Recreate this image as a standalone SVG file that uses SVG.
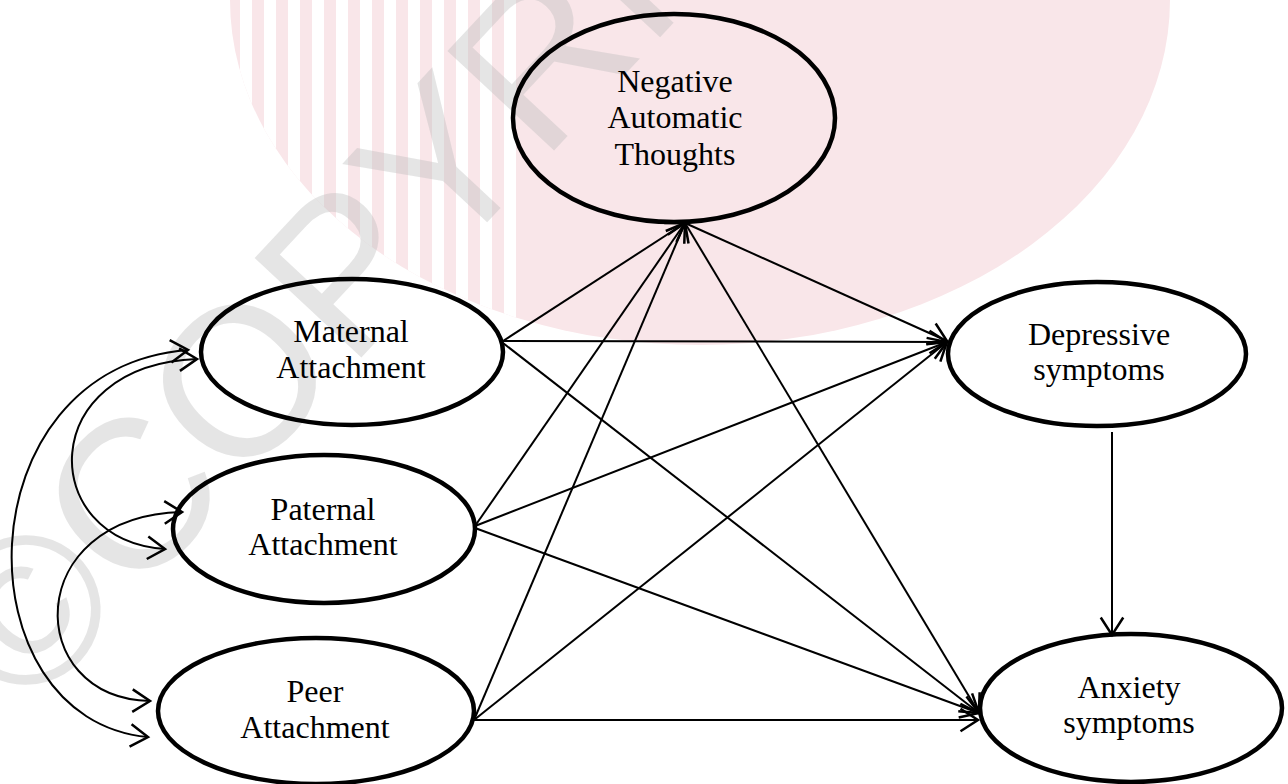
<svg xmlns="http://www.w3.org/2000/svg" width="1288" height="784" viewBox="0 0 1288 784">
  <defs>
    <marker id="ah" markerUnits="userSpaceOnUse" markerWidth="30" markerHeight="30" viewBox="-16 -12 20 24" refX="0" refY="0" orient="auto-start-reverse">
      <path d="M-14,-9 L0,0 L-14,9" fill="none" stroke="#000" stroke-width="2"/>
    </marker>
    <clipPath id="pinkclip">
      <ellipse cx="700" cy="0" rx="470" ry="345"/>
    </clipPath>
  </defs>
  <style>
    .node { fill: none; stroke: #000; stroke-width: 4.5; }
    .lbl { font-family: "Liberation Serif", "Times New Roman", serif; font-size: 32px; fill: #000; text-anchor: middle; }
    .edge { fill: none; stroke: #000; stroke-width: 2; marker-end: url(#ah); }
    .curve { fill: none; stroke: #000; stroke-width: 2; marker-start: url(#ah); marker-end: url(#ah); }
    .wm { font-family: "Liberation Sans", Arial, sans-serif; font-size: 212px; fill: #bbbbbb; fill-opacity: 0.38; }
  </style>

  <rect x="0" y="0" width="1288" height="784" fill="#ffffff"/>

  <g id="watermark">
    <g clip-path="url(#pinkclip)">
      <rect x="220" y="0" width="960" height="400" fill="#f9e6e9"/>
      <g fill="#ffffff">
        <rect x="240" y="0" width="12" height="400"/>
        <rect x="264" y="0" width="12" height="400"/>
        <rect x="288" y="0" width="12" height="400"/>
        <rect x="312" y="0" width="12" height="400"/>
        <rect x="336" y="0" width="12" height="400"/>
        <rect x="360" y="0" width="12" height="400"/>
        <rect x="384" y="0" width="12" height="400"/>
        <rect x="408" y="0" width="12" height="400"/>
        <rect x="432" y="0" width="12" height="400"/>
        <rect x="456" y="0" width="12" height="400"/>
        <rect x="480" y="0" width="12" height="400"/>
        <rect x="504" y="0" width="12" height="400"/>
      </g>
    </g>
    <text class="wm" transform="translate(26,717) rotate(-47)">©COPYRIGHT</text>
  </g>

  <g id="connectors">
    <line class="edge" x1="503" y1="341" x2="685" y2="223"/>
    <line class="edge" x1="503" y1="341" x2="947" y2="342"/>
    <line class="edge" x1="503" y1="343" x2="979" y2="713"/>
    <line class="edge" x1="475" y1="526" x2="685" y2="223"/>
    <line class="edge" x1="475" y1="526" x2="947" y2="342"/>
    <line class="edge" x1="475" y1="528" x2="979" y2="713"/>
    <line class="edge" x1="474" y1="720" x2="685" y2="223"/>
    <line class="edge" x1="474" y1="720" x2="947" y2="342"/>
    <line class="edge" x1="474" y1="720" x2="978" y2="720"/>
    <line class="edge" x1="685" y1="223" x2="947" y2="341"/>
    <line class="edge" x1="685" y1="223" x2="979" y2="713"/>
    <line class="edge" x1="1112" y1="432" x2="1112" y2="635"/>
    <path class="curve" d="M188,350 C-40,368 -40,720 148,737"/>
    <path class="curve" d="M197,359 C36,365 36,540 165,549"/>
    <path class="curve" d="M182,512 C22,516 22,698 150,701"/>
  </g>

  <g id="node-nat">
    <ellipse class="node" cx="674" cy="118" rx="161" ry="104"/>
    <text class="lbl" x="675" y="92">Negative</text>
    <text class="lbl" x="675" y="128">Automatic</text>
    <text class="lbl" x="675" y="165">Thoughts</text>
  </g>
  <g id="node-maternal">
    <ellipse class="node" cx="352" cy="352" rx="151" ry="73"/>
    <text class="lbl" x="351" y="342">Maternal</text>
    <text class="lbl" x="351" y="378">Attachment</text>
  </g>
  <g id="node-paternal">
    <ellipse class="node" cx="324" cy="529" rx="151" ry="74"/>
    <text class="lbl" x="323" y="520">Paternal</text>
    <text class="lbl" x="323" y="555">Attachment</text>
  </g>
  <g id="node-peer">
    <ellipse class="node" cx="316" cy="711" rx="158" ry="73"/>
    <text class="lbl" x="315" y="702">Peer</text>
    <text class="lbl" x="315" y="738">Attachment</text>
  </g>
  <g id="node-depressive">
    <ellipse class="node" cx="1097" cy="354" rx="149" ry="72"/>
    <text class="lbl" x="1099" y="345">Depressive</text>
    <text class="lbl" x="1099" y="380">symptoms</text>
  </g>
  <g id="node-anxiety">
    <ellipse class="node" cx="1131" cy="708" rx="151" ry="74"/>
    <text class="lbl" x="1129" y="698">Anxiety</text>
    <text class="lbl" x="1129" y="733">symptoms</text>
  </g>
</svg>
